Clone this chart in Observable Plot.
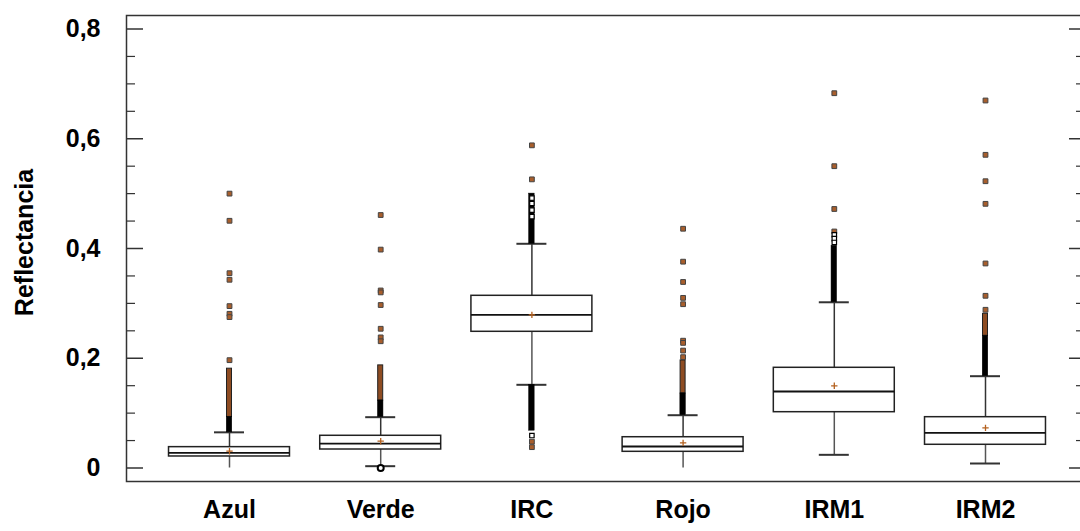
<!DOCTYPE html>
<html>
<head>
<meta charset="utf-8">
<script src="https://cdn.jsdelivr.net/npm/d3@7"></script>
<script src="https://cdn.jsdelivr.net/npm/@observablehq/plot@0.6"></script>
<style>
  html, body { margin: 0; padding: 0; background: #fff; overflow: hidden; }
  #chart { width: 1080px; height: 531px; overflow: hidden; }
</style>
</head>
<body>
<div id="chart"></div>
<script>
// ---- data ----
const categories  = ["Azul", "Verde", "IRC", "Rojo", "IRM1", "IRM2"];
const q1          = [0.021, 0.0337, 0.2482, 0.0295, 0.1017, 0.0423];
const median      = [0.0277, 0.0446, 0.2792, 0.0392, 0.1394, 0.0641];
const q3          = [0.038, 0.0587, 0.3138, 0.0561, 0.1826, 0.0926];
const mean        = [0.0306, 0.0488, 0.2790, 0.0459, 0.1498, 0.0732];
const whiskerLow  = [0, 0.0033, 0.1516, 0, 0.024, 0.0082];
const whiskerHigh = [0.065, 0.0926, 0.4086, 0.0962, 0.302, 0.1673];
const lowCap      = [false, true, true, false, true, true];

// dense (overplotted) outlier runs
const denseCat  = ["Azul", "Azul", "Verde", "Verde", "IRC", "IRC", "Rojo", "Rojo", "IRM1", "IRM2", "IRM2"];
const denseLo   = [0.065, 0.093, 0.0926, 0.123, 0.4086, 0.068, 0.0962, 0.136, 0.302, 0.1673, 0.241];
const denseHi   = [0.093, 0.181, 0.123, 0.187, 0.500, 0.1516, 0.136, 0.196, 0.405, 0.241, 0.281];
const denseKind = ["black", "brown", "black", "brown", "black", "black", "black", "brown", "black", "black", "brown"];

// isolated outliers (brown squares)
const outAzul  = [0.500, 0.4505, 0.355, 0.343, 0.295, 0.281, 0.275, 0.1965];
const outVerde = [0.461, 0.398, 0.3235, 0.320, 0.297, 0.2537, 0.238, 0.231];
const outIRC   = [0.588, 0.526, 0.048, 0.038];
const outRojo  = [0.436, 0.376, 0.339, 0.310, 0.2985, 0.232, 0.228, 0.214, 0.202];
const outIRM1  = [0.683, 0.550, 0.472, 0.431];
const outIRM2  = [0.6697, 0.5707, 0.5226, 0.4814, 0.3727, 0.3138, 0.2883];
// open (white) outlier squares inside dense runs
const openCat  = ["IRC", "IRC", "IRC", "IRC", "IRC", "IRM1", "IRM1", "IRM1"];
const openVal  = [0.492, 0.482, 0.470, 0.458, 0.0592, 0.425, 0.418, 0.411];
// low outlier drawn as open circle
const lowOutCat = ["Verde"];
const lowOutVal = [0];

const majorTicks = [0, 0.2, 0.4, 0.6, 0.8];
const minorTicks = [0.05, 0.1, 0.15, 0.25, 0.3, 0.35, 0.45, 0.5, 0.55, 0.65, 0.7, 0.75];
const tickLabels = ["0", "0,2", "0,4", "0,6", "0,8"];

// ---- tables built from the arrays ----
const boxes = categories.map((c, i) => ({
  cat: c, q1: q1[i], med: median[i], q3: q3[i], mean: mean[i],
  lo: whiskerLow[i], hi: whiskerHigh[i], lowCap: lowCap[i]
}));
const dense = denseCat.map((c, i) => ({cat: c, lo: denseLo[i], hi: denseHi[i], kind: denseKind[i]}));
const outlierLists = {Azul: outAzul, Verde: outVerde, IRC: outIRC, Rojo: outRojo, IRM1: outIRM1, IRM2: outIRM2};
const outliers = categories.flatMap(c => outlierLists[c].map(v => ({cat: c, v})));
const openOut = openCat.map((c, i) => ({cat: c, v: openVal[i]}));
const lowOut = lowOutCat.map((c, i) => ({cat: c, v: lowOutVal[i]}));
const majors = majorTicks.map((v, i) => ({v, label: tickLabels[i]}));

const W = 1080, H = 531;
const mL = 126, mR = -8, mT = 15, mB = 50;
const fw = W - mL - mR; // frame width
const step = 151.2;
const xRange = [229 - step / 2, 985 + step / 2];
const bw = step * 0.8;
const font = "Liberation Sans, Arial, sans-serif";
const brown = "#b4611f";

const chart = Plot.plot({
  width: W,
  height: H,
  marginLeft: mL,
  marginRight: mR,
  marginTop: mT,
  marginBottom: mB,
  style: {fontFamily: font, background: "#fff", overflow: "hidden"},
  x: {type: "band", domain: categories, range: xRange, paddingInner: 0.2, paddingOuter: 0.1, round: false, axis: null},
  y: {domain: [-0.0246, 0.8246], axis: null},
  marks: [
    Plot.frame({stroke: "#333", strokeWidth: 1.5}),
    // left ticks (inward)
    Plot.tickY(majorTicks, {y: d => d, insetRight: fw - 17, stroke: "#333", strokeWidth: 1.5}),
    Plot.tickY(minorTicks, {y: d => d, insetRight: fw - 9, stroke: "#333", strokeWidth: 1.2}),
    // right ticks (inward)
    Plot.tickY(majorTicks, {y: d => d, insetLeft: fw - 19, stroke: "#333", strokeWidth: 1.5}),
    Plot.tickY(minorTicks, {y: d => d, insetLeft: fw - 12, stroke: "#333", strokeWidth: 1.2}),
    // y tick labels
    Plot.text(majors, {y: "v", text: "label", frameAnchor: "left", dx: -26, textAnchor: "end",
      fontSize: 25, fontWeight: "bold", fill: "#000"}),
    // y label
    Plot.text(["Reflectancia"], {frameAnchor: "left", textAnchor: "middle", dx: -102, dy: -6, rotate: -90,
      fontSize: 25, fontWeight: "bold", fill: "#000"}),
    // x labels
    Plot.text(categories, {x: d => d, frameAnchor: "bottom", dy: 36, fontSize: 25, fontWeight: "bold", fill: "#000"}),
    // whiskers
    Plot.ruleX(boxes, {x: "cat", y1: "q3", y2: "hi", stroke: "#333", strokeWidth: 1.5}),
    Plot.ruleX(boxes, {x: "cat", y1: "q1", y2: "lo", stroke: "#555", strokeWidth: 1.5}),
    Plot.tickY(boxes, {x: "cat", y: "hi", insetLeft: (bw - 30) / 2, insetRight: (bw - 30) / 2, stroke: "#333", strokeWidth: 2}),
    Plot.tickY(boxes.filter(d => d.lowCap), {x: "cat", y: "lo", insetLeft: (bw - 30) / 2, insetRight: (bw - 30) / 2, stroke: "#333", strokeWidth: 2}),
    // boxes
    Plot.barY(boxes, {x: "cat", y1: "q1", y2: "q3", fill: "#fff", stroke: "#222", strokeWidth: 1.5}),
    Plot.tickY(boxes, {x: "cat", y: "med", stroke: "#111", strokeWidth: 1.8}),
    // dense outlier runs
    Plot.barY(dense.filter(d => d.kind === "brown"), {x: "cat", y1: "lo", y2: "hi", insetLeft: (bw - 5) / 2, insetRight: (bw - 5) / 2,
      fill: "#8e4c22", stroke: "#222", strokeWidth: 1}),
    Plot.barY(dense.filter(d => d.kind === "black"), {x: "cat", y1: "lo", y2: "hi", insetLeft: (bw - 5.5) / 2, insetRight: (bw - 5.5) / 2,
      fill: "#000", stroke: "#000", strokeWidth: 0.5}),
    // isolated outliers
    Plot.dot(outliers, {x: "cat", y: "v", symbol: "square", r: 2.7, fill: "#a85e2c", stroke: "#444", strokeWidth: 1}),
    Plot.dot(openOut, {x: "cat", y: "v", symbol: "square", r: 2.5, fill: "#fff", stroke: "#000", strokeWidth: 1.2}),
    Plot.dot(lowOut, {x: "cat", y: "v", symbol: "circle", r: 3, fill: "#fff", stroke: "#000", strokeWidth: 2}),
    // means
    Plot.dot(boxes, {x: "cat", y: "mean", symbol: "plus", r: 2.2, stroke: brown, strokeWidth: 1.3})
  ]
});
document.getElementById("chart").appendChild(chart);
</script>
</body>
</html>
